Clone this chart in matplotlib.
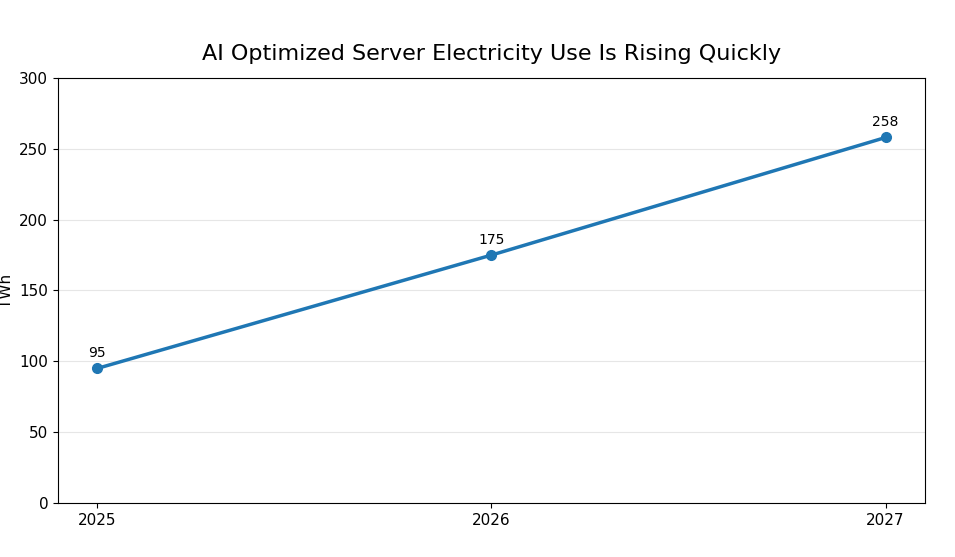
import matplotlib
matplotlib.use("Agg")
import matplotlib.pyplot as plt

# Data
years = [2025, 2026, 2027]
twh = [95, 175, 258]
year_labels = ["2025", "2026", "2027"]

fig = plt.figure(figsize=(9.55, 5.57), dpi=100)
ax = fig.add_axes([0.0607, 0.097, 0.9079, 0.763])

ax.plot(years, twh, color="#1f77b4", linewidth=2.5, marker="o", markersize=7)
for x, y in zip(years, twh):
    ax.annotate(f"{y}", (x, y), textcoords="offset points", xytext=(0, 8),
                ha="center", fontsize=10)

ax.set_xticks(years)
ax.set_xticklabels(year_labels, fontsize=11)
ax.tick_params(axis="y", labelsize=11)
ax.set_ylim(0, 300)
ax.set_ylabel("TWh", fontsize=11)
ax.yaxis.grid(True, color="#e6e6e6", linewidth=0.8)
ax.set_axisbelow(True)
ax.set_title("AI Optimized Server Electricity Use Is Rising Quickly", fontsize=16, pad=13)

fig.savefig("out.png", dpi=100)
